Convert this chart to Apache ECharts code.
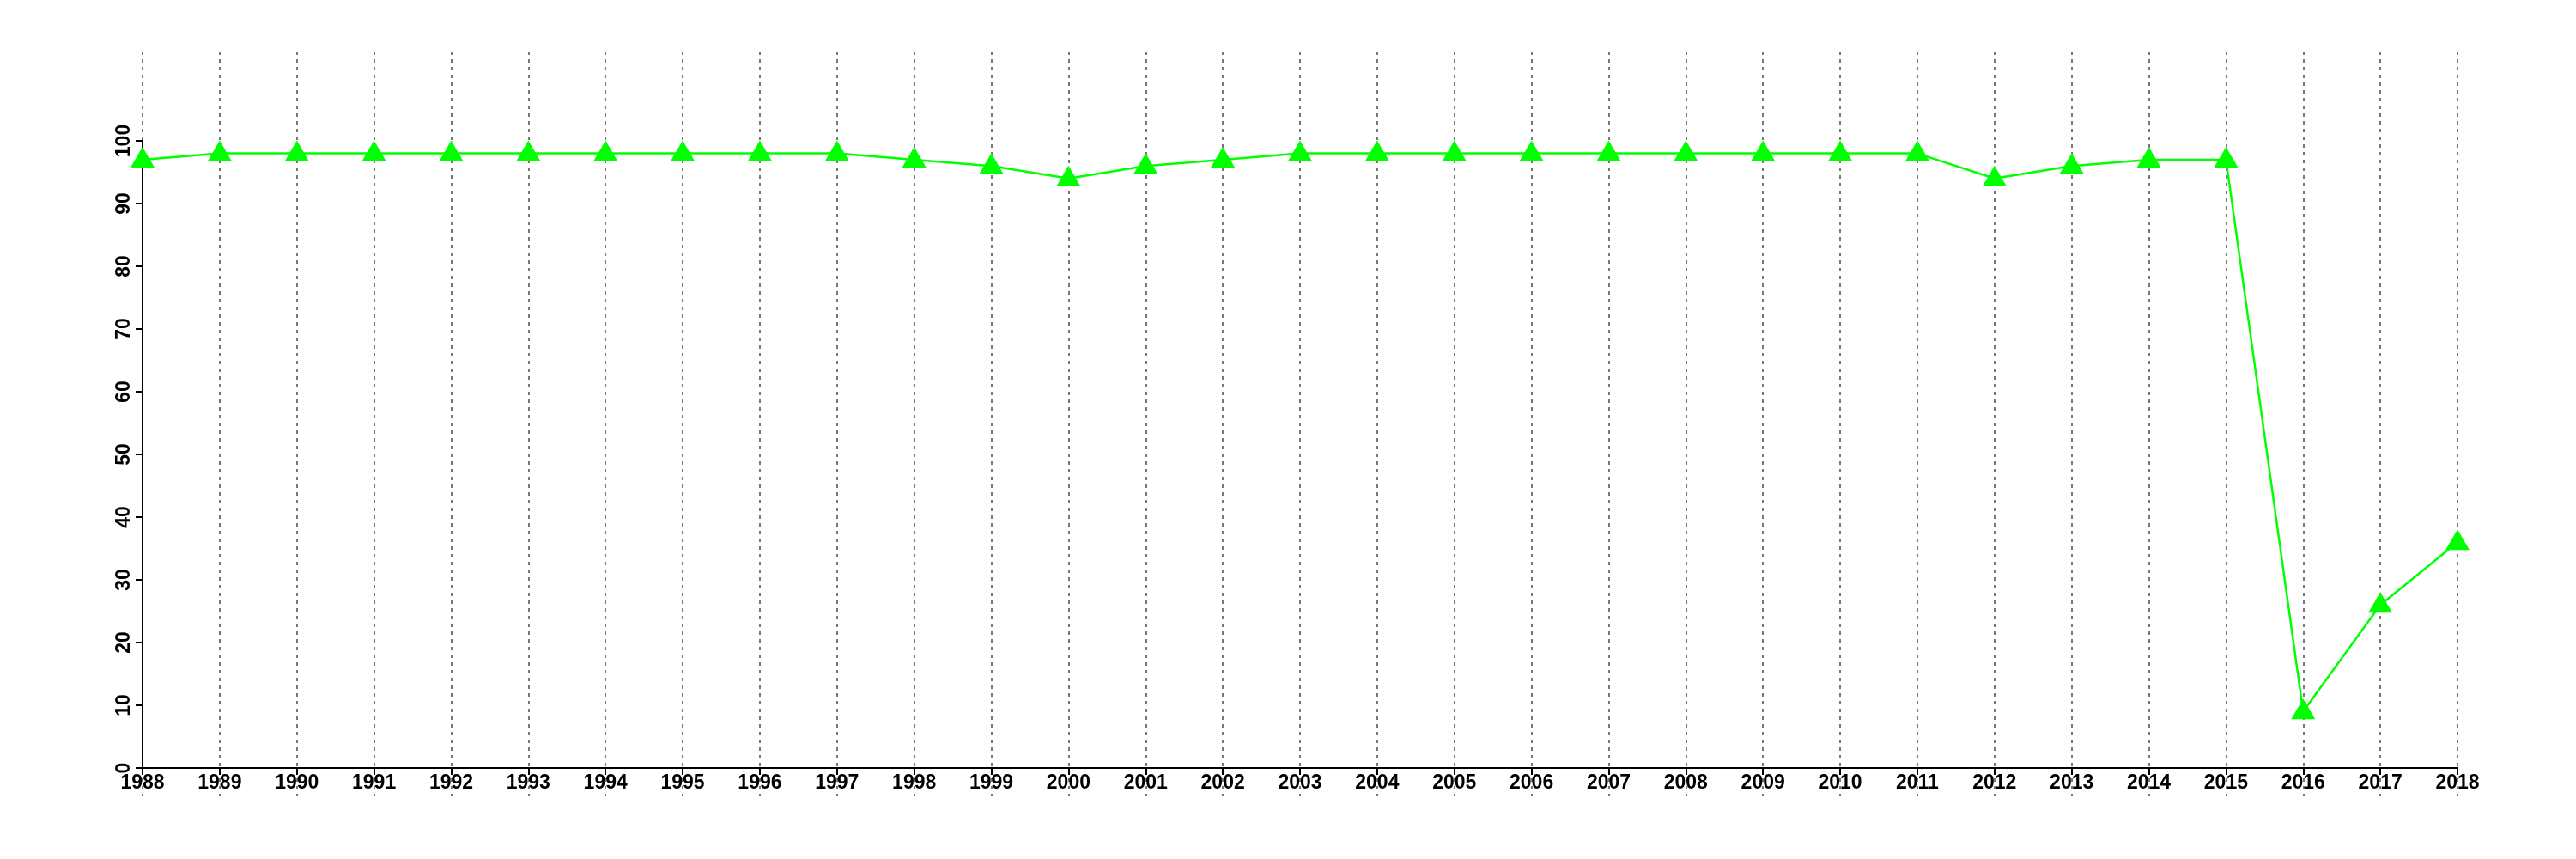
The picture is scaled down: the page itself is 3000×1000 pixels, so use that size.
<!DOCTYPE html>
<html>
<head>
<meta charset="utf-8">
<script src="https://cdn.jsdelivr.net/npm/echarts@6/dist/echarts.min.js"></script>
<style>html,body{margin:0;padding:0;background:#fff}#c{width:3000px;height:1000px}</style>
</head>
<body>
<div id="c"></div>
<script>
const years = ['1988','1989','1990','1991','1992','1993','1994','1995','1996','1997','1998','1999','2000','2001','2002','2003','2004','2005','2006','2007','2008','2009','2010','2011','2012','2013','2014','2015','2016','2017','2018'];
const values = [97,98,98,98,98,98,98,98,98,98,97,96,94,96,97,98,98,98,98,98,98,98,98,98,94,96,97,97,9,26,36];
const yTicks = {min: 0, max: 100, interval: 10};

const chart = echarts.init(document.getElementById('c'), null, {renderer: 'canvas'});
const font = 'Liberation Sans';
chart.setOption({
  animation: false,
  backgroundColor: '#ffffff',
  grid: [
    {left: 166, right: 138, top: 164, bottom: 106},
    {left: 166, right: 138, top: 60, bottom: 73}
  ],
  xAxis: [
    {
      type: 'category', gridIndex: 0, data: years, boundaryGap: false, z: 5,
      axisLine: {show: true, lineStyle: {color: '#000', width: 2}},
      axisTick: {show: true, interval: 0, length: 8, lineStyle: {color: '#000', width: 2}},
      axisLabel: {show: true, interval: 0, margin: 6, color: '#000', fontSize: 23, fontFamily: font, fontWeight: 'bold'},
      splitLine: {show: false}
    },
    {
      type: 'category', gridIndex: 1, data: years, boundaryGap: false, z: 1,
      axisLine: {show: false}, axisTick: {show: false}, axisLabel: {show: false},
      splitLine: {show: true, interval: 0, lineStyle: {color: '#777', width: 2, type: [4, 5]}}
    }
  ],
  yAxis: [
    {
      type: 'value', gridIndex: 0, min: yTicks.min, max: yTicks.max, interval: yTicks.interval, z: 5,
      axisLine: {show: true, lineStyle: {color: '#000', width: 2}},
      axisTick: {show: true, length: 8, lineStyle: {color: '#000', width: 2}},
      axisLabel: {show: true, rotate: 90, margin: 10, color: '#000', fontSize: 23, fontFamily: font, fontWeight: 'bold'},
      splitLine: {show: false}
    },
    {type: 'value', gridIndex: 1, show: false, min: 0, max: 1}
  ],
  series: [{
    type: 'line', xAxisIndex: 0, yAxisIndex: 0, data: values, z: 10,
    symbol: 'triangle', symbolSize: [28, 24], symbolOffset: [0, -3],
    lineStyle: {color: '#00ff00', width: 2.5},
    itemStyle: {color: '#00ff00'}
  }]
});
</script>
</body>
</html>
